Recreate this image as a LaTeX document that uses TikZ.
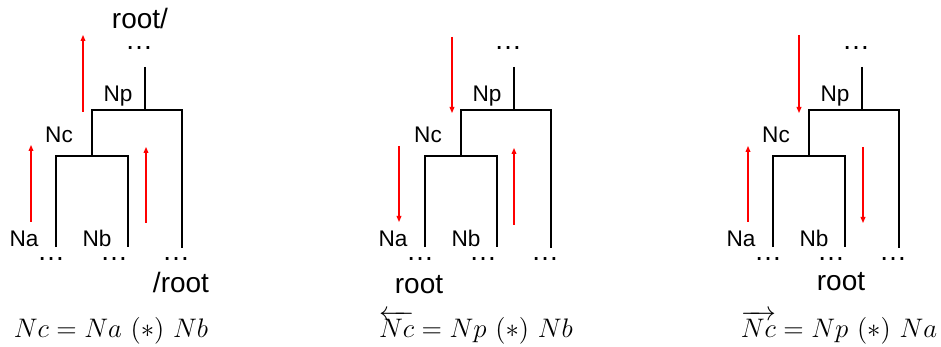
\RequirePackage{fix-cm}
\documentclass[tikz,border=0pt]{standalone}
\usepackage{fontspec}
\newfontfamily\arialfont{Liberation Sans}
\usetikzlibrary{arrows.meta}

\begin{document}
\begin{tikzpicture}[x=0.5pt, y=-0.5pt,
  branch/.style={line width=1.3pt},
  flow/.style={red, line width=0.55pt, -{Triangle[length=3pt, width=2.4pt]}},
  lbl/.style={font=\arialfont\fontsize{11.3}{13}\selectfont, anchor=base, inner sep=0pt},
  rootlbl/.style={font=\arialfont\fontsize{14}{16}\selectfont, anchor=base, inner sep=0pt},
  formula/.style={font=\fontsize{13.4}{16}\selectfont, anchor=base, inner sep=0pt}]

  \useasboundingbox (0,0) rectangle (941,347);

  % =======================================================
  % TREE SKELETON (same in every panel)
  % =======================================================
  \foreach \p/\dx in {1/0, 2/369, 3/717} {
    \begin{scope}[shift={(\dx,0)}]
      % junctions of the dendrogram
      \coordinate (top\p) at (145,67);
      \coordinate (pj\p)  at (145,110);
      \coordinate (pl\p)  at (92,110);
      \coordinate (pr\p)  at (182,110);
      \coordinate (cl\p)  at (56,156);
      \coordinate (cr\p)  at (128,156);
      \coordinate (la\p)  at (56,247);
      \coordinate (lb\p)  at (128,247);
      \coordinate (lr\p)  at (182,248);

      \draw[branch] (top\p) -- (pj\p);
      \draw[branch] (la\p) |- (cr\p) -- (lb\p);
      \draw[branch] (cl\p -| pl\p) |- (pr\p) -- (lr\p);

      % labels
      \node[lbl] (np\p) at (118,102) {Np};
      \node[lbl] (nc\p) at (59,143)  {Nc};
      \node[lbl] (na\p) at (24,247)  {Na};
      \node[lbl] (nb\p) at (97,247)  {Nb};

      % dots
      \node[rootlbl] (dt\p) at (139,50)  {…};
      \node[rootlbl] (da\p) at (51,260)  {…};
      \node[rootlbl] (db\p) at (114,260) {…};
      \node[rootlbl] (dr\p) at (176,260) {…};
    \end{scope}
  }

  % =======================================================
  % 1. Bottom-up
  % =======================================================
  \begin{scope}[shift={(0,0)}]
    \node[rootlbl] (rt1) at (140,29)  {root/};
    \node[rootlbl] (rb1) at (181,292) {/root};

    \coordinate (f1s) at (83,112);  \coordinate (f1e) at (83,35);
    \coordinate (g1s) at (31,222);  \coordinate (g1e) at (31,145);
    \coordinate (h1s) at (146,223); \coordinate (h1e) at (146,147);
    \draw[flow] (f1s) -- (f1e);
    \draw[flow] (g1s) -- (g1e);
    \draw[flow] (h1s) -- (h1e);

    \node[formula] (eq1) at (111,337) {$Nc = Na\ (*)\ Nb$};
  \end{scope}

  % =======================================================
  % 2. Top-down, left child
  % =======================================================
  \begin{scope}[shift={(369,0)}]
    \node[rootlbl] (rb2) at (50,293) {root};

    \coordinate (f2s) at (83,37);   \coordinate (f2e) at (83,113);
    \coordinate (g2s) at (30,146);  \coordinate (g2e) at (30,222);
    \coordinate (h2s) at (145,225); \coordinate (h2e) at (145,148);
    \draw[flow] (f2s) -- (f2e);
    \draw[flow] (g2s) -- (g2e);
    \draw[flow] (h2s) -- (h2e);

    \node[formula] (eq2) at (107,337) {$\overleftarrow{Nc} = Np\ (*)\ Nb$};
  \end{scope}

  % =======================================================
  % 3. Top-down, right child
  % =======================================================
  \begin{scope}[shift={(717,0)}]
    \node[rootlbl] (rb3) at (124,290) {root};

    \coordinate (f3s) at (82,35);   \coordinate (f3e) at (82,113);
    \coordinate (g3s) at (31,222);  \coordinate (g3e) at (31,146);
    \coordinate (h3s) at (146,147); \coordinate (h3e) at (146,223);
    \draw[flow] (f3s) -- (f3e);
    \draw[flow] (g3s) -- (g3e);
    \draw[flow] (h3s) -- (h3e);

    \node[formula] (eq3) at (122,337) {$\overrightarrow{Nc} = Np\ (*)\ Na$};
  \end{scope}

\end{tikzpicture}
\end{document}
